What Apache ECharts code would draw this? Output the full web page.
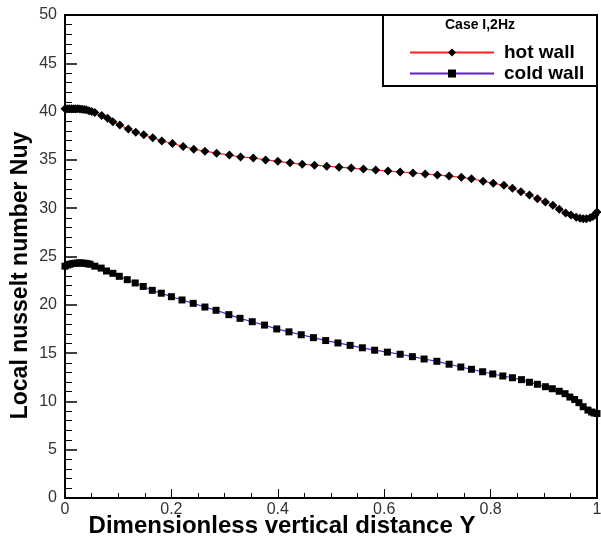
<!DOCTYPE html>
<html>
<head>
<meta charset="utf-8">
<script src="https://cdn.jsdelivr.net/npm/echarts@6/dist/echarts.min.js"></script>
<style>
  html, body { margin: 0; padding: 0; background: #fff; }
  #chart { width: 601px; height: 550px; }
</style>
</head>
<body>
<div id="chart"></div>
<script>
// Local Nusselt number along the hot and cold walls
const hotX = [0, 0.004, 0.008, 0.012, 0.016, 0.02, 0.024, 0.028, 0.032, 0.036, 0.04, 0.045, 0.05, 0.056, 0.069, 0.080, 0.090, 0.103, 0.119, 0.133, 0.148, 0.165, 0.182, 0.202, 0.222, 0.242, 0.263, 0.285, 0.309, 0.330, 0.354, 0.377, 0.400, 0.423, 0.446, 0.469, 0.492, 0.515, 0.538, 0.561, 0.584, 0.607, 0.630, 0.654, 0.677, 0.700, 0.722, 0.745, 0.764, 0.786, 0.805, 0.825, 0.841, 0.857, 0.873, 0.888, 0.903, 0.917, 0.929, 0.941, 0.951, 0.961, 0.968, 0.974, 0.980, 0.987, 0.992, 0.996, 1.0];
const hotNu = [40.3, 40.3, 40.3, 40.3, 40.3, 40.3, 40.3, 40.28, 40.25, 40.22, 40.18, 40.1, 40.0, 39.9, 39.6, 39.3, 38.96, 38.6, 38.2, 37.86, 37.6, 37.3, 36.96, 36.7, 36.4, 36.1, 35.9, 35.7, 35.5, 35.3, 35.2, 35.0, 34.85, 34.7, 34.55, 34.45, 34.35, 34.25, 34.15, 34.05, 33.95, 33.85, 33.75, 33.65, 33.54, 33.44, 33.33, 33.2, 33.05, 32.8, 32.58, 32.37, 32.06, 31.7, 31.37, 30.98, 30.64, 30.3, 29.9, 29.5, 29.3, 29.06, 28.95, 28.9, 28.92, 29.0, 29.15, 29.3, 29.6];

const coldX = [0, 0.005, 0.009, 0.014, 0.019, 0.024, 0.028, 0.033, 0.038, 0.042, 0.047, 0.056, 0.068, 0.078, 0.090, 0.102, 0.117, 0.132, 0.147, 0.164, 0.181, 0.200, 0.220, 0.241, 0.263, 0.284, 0.308, 0.329, 0.352, 0.375, 0.398, 0.421, 0.444, 0.467, 0.490, 0.513, 0.536, 0.559, 0.582, 0.606, 0.630, 0.653, 0.675, 0.699, 0.722, 0.744, 0.764, 0.785, 0.804, 0.823, 0.841, 0.858, 0.873, 0.888, 0.903, 0.916, 0.929, 0.940, 0.949, 0.958, 0.966, 0.974, 0.983, 0.990, 0.995, 1.0];
const coldNu = [24.0, 24.12, 24.2, 24.27, 24.3, 24.33, 24.33, 24.32, 24.3, 24.25, 24.2, 24.0, 23.8, 23.5, 23.26, 22.95, 22.6, 22.26, 21.9, 21.5, 21.2, 20.84, 20.5, 20.15, 19.77, 19.43, 18.98, 18.6, 18.25, 17.9, 17.5, 17.2, 16.9, 16.6, 16.3, 16.05, 15.8, 15.55, 15.3, 15.1, 14.88, 14.63, 14.39, 14.15, 13.85, 13.56, 13.32, 13.07, 12.84, 12.63, 12.45, 12.25, 11.98, 11.77, 11.52, 11.31, 11.05, 10.8, 10.45, 10.2, 9.87, 9.45, 9.1, 8.9, 8.8, 8.75];

const xTicks = [0, 0.2, 0.4, 0.6, 0.8, 1];
const yTicks = [0, 5, 10, 15, 20, 25, 30, 35, 40, 45, 50];

const seriesNames = ['hot wall', 'cold wall'];
const legendTitle = 'Case I,2Hz';
const xTitle = 'Dimensionless vertical distance Y';
const yTitle = 'Local nusselt number Nuy';

const pair = (xs, ys) => xs.map((x, i) => [x, ys[i]]);

const FONT = '"Liberation Sans", Arial, sans-serif';

const chart = echarts.init(document.getElementById('chart'), null, { renderer: 'canvas' });

chart.setOption({
  animation: false,
  backgroundColor: '#fff',
  grid: {
    left: 65, top: 15, right: 4, bottom: 52,
    outerBoundsMode: 'none', containLabel: false,
    show: true, borderColor: '#000', borderWidth: 2, backgroundColor: 'transparent'
  },
  xAxis: {
    type: 'value',
    min: xTicks[0], max: xTicks[xTicks.length - 1], interval: 0.2,
    name: xTitle, nameLocation: 'middle', nameGap: 16, nameMoveOverlap: false,
    nameTextStyle: { fontFamily: FONT, fontWeight: 'bold', fontSize: 24, color: '#000', padding: [0, 98, 0, 0] },
    axisLine: { lineStyle: { color: '#000', width: 2 } },
    axisTick: { inside: true, length: 9, lineStyle: { color: '#000', width: 1 } },
    minorTick: { show: true, splitNumber: 4, length: 5, lineStyle: { color: '#000', width: 1 } },
    splitLine: { show: false },
    axisLabel: {
      fontFamily: FONT, fontSize: 16, color: '#333', margin: 4,
      formatter: v => (xTicks.includes(+v.toFixed(2)) ? String(+v.toFixed(2)) : '')
    }
  },
  yAxis: {
    type: 'value',
    min: yTicks[0], max: yTicks[yTicks.length - 1], interval: 5,
    name: yTitle, nameLocation: 'middle', nameGap: 33, nameMoveOverlap: false,
    nameTextStyle: { fontFamily: FONT, fontWeight: 'bold', fontSize: 23, color: '#000', padding: [0, 38, 0, 0] },
    axisLine: { lineStyle: { color: '#000', width: 2 } },
    axisTick: { inside: true, length: 12, lineStyle: { color: '#000', width: 1.5 } },
    minorTick: { show: true, splitNumber: 5, length: 7, lineStyle: { color: '#000', width: 1 } },
    splitLine: { show: false },
    axisLabel: { fontFamily: FONT, fontSize: 16, color: '#333', margin: 8 }
  },
  legend: {
    orient: 'vertical',
    left: 404, top: 38,
    itemWidth: 84, itemHeight: 10, itemGap: 2,
    data: seriesNames,
    textStyle: { fontFamily: FONT, fontWeight: 'bold', fontSize: 19, color: '#000', padding: [0, 0, 0, 5] }
  },
  graphic: [
    {
      type: 'rect', z: 0,
      shape: { x: 383, y: 15, width: 214, height: 71 },
      style: { fill: '#fff', stroke: '#000', lineWidth: 2 }
    },
    {
      type: 'text', z: 1,
      x: 480, y: 25,
      style: { text: legendTitle, fontFamily: FONT, fontWeight: 'bold', fontSize: 14, fill: '#000', textAlign: 'center', textVerticalAlign: 'middle' }
    }
  ],
  series: [
    {
      name: seriesNames[0], type: 'line', z: 3,
      data: pair(hotX, hotNu),
      lineStyle: { color: '#ff2020', width: 1.2 },
      itemStyle: { color: '#000' },
      symbol: 'diamond', symbolSize: 9, showAllSymbol: true
    },
    {
      name: seriesNames[1], type: 'line', z: 3,
      data: pair(coldX, coldNu),
      lineStyle: { color: '#5a20cc', width: 1.2 },
      itemStyle: { color: '#000' },
      symbol: 'rect', symbolSize: 7, showAllSymbol: true
    }
  ]
});
</script>
</body>
</html>
